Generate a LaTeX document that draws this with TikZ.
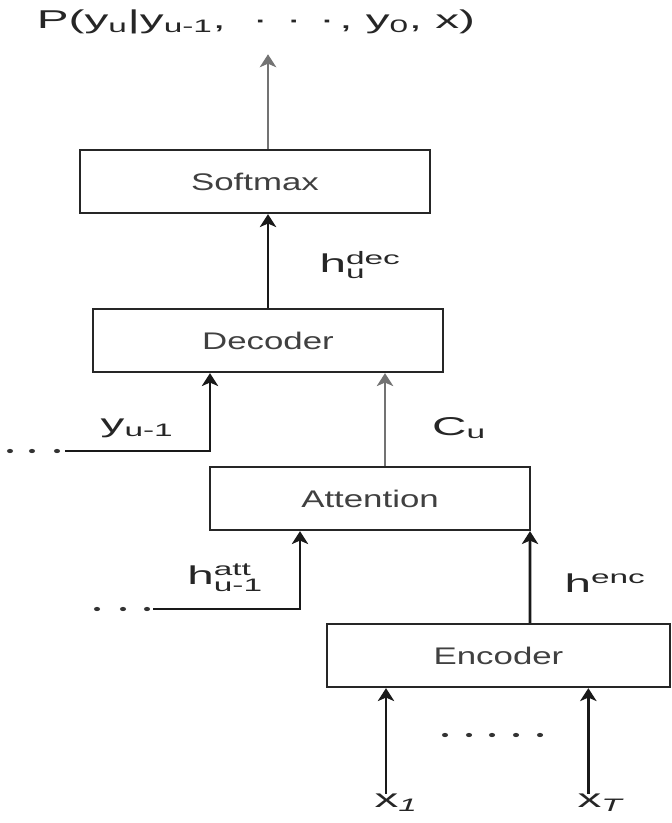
\documentclass[tikz,border=0pt]{standalone}
\usepackage{fontspec}
\setmainfont{Liberation Sans}[FakeStretch=1.45]
\newfontfamily\widesans{Liberation Sans}[FakeStretch=1.85]
\usepackage{amsmath}
\usetikzlibrary{positioning,arrows.meta}

\begin{document}
\begin{tikzpicture}[x=0.03cm, y=-0.03cm,
    blocknode/.style={rectangle, draw=black!85, line width=2pt, inner sep=0pt, minimum height=1.89cm, font=\fontsize{20.5}{24}\selectfont, text=black!75},
    labelnode/.style={inner sep=0pt, font=\widesans\fontsize{22}{26}\selectfont, text=black!85},
    flow/.style={-{Stealth[length=11pt,width=14pt,inset=3pt]}, line width=2.3pt, draw=black!90},
    greyflow/.style={flow, draw=black!55},]
    \useasboundingbox (0,0) rectangle (671,823);
    % nodes
    \node[blocknode, minimum width=10.5cm]  (softmax)   at (255,181.5)   {Softmax};
    \node[blocknode, minimum width=10.5cm]  (decoder)   at (268,340.5)   {Decoder};
    \node[blocknode, minimum width=9.6cm]   (attention) at (370,498.5)   {Attention};
    \node[blocknode, minimum width=10.29cm] (encoder)   at (498.5,655.5) {Encoder};
    \node[labelnode] (prob)  at (256,22)  {P(y$_{\text{u}}$|y$_{\text{u-1}}$, \ ·\ \,·\ \,·\,, y$_{\text{0}}$, x)};
    \node[labelnode] (hdec)  at (360,265) {h$^{\text{dec}}_{\text{u}}$};
    \node[labelnode] (yprevlabel) at (137,428) {y$_{\text{u-1}}$};
    \node[labelnode] (cu)    at (459,428) {C$_{\text{u}}$};
    \node[labelnode] (hattlabel)  at (225,578) {h$^{\text{att}}_{\text{u-1}}$};
    \node[labelnode] (henc)  at (605,583) {h$^{\text{enc}}$};
    \node[labelnode] (x1)    at (396,803) {x$_{\textit{1}}$};
    \node[labelnode] (xT)    at (600,803) {x$_{\textit{T}}$};
    \coordinate (yprev) at (65,451);
    \coordinate (hprev) at (153,609);
    % dots
    \foreach \x in {10,32,57} \fill[black!80] (\x,451) ellipse [x radius=2.6pt, y radius=1.8pt];
    \foreach \x in {97,123,147} \fill[black!80] (\x,609) ellipse [x radius=2.6pt, y radius=1.8pt];
    \foreach \x in {445,469,492,516,540} \fill[black!80] (\x,735) ellipse [x radius=2.6pt, y radius=1.8pt];
    % lines
    \draw[greyflow, shorten >=0.6cm] (softmax.north -| decoder.north) -- (prob.south -| decoder.north);
    \draw[flow] (decoder.north) -- (softmax.south -| decoder.north);
    \draw[flow] (yprev) -| ([xshift=-1.74cm]decoder.south);
    \draw[greyflow] ([xshift=0.45cm]attention.north) -- ([xshift=0.45cm]attention.north |- decoder.south);
    \draw[flow] (hprev) -| ([xshift=-2.1cm]attention.south);
    \draw[flow] ([xshift=0.945cm]encoder.north) -- ([xshift=4.8cm]attention.south);
    \draw[flow] ([xshift=-0.3cm]x1.north) -- ([xshift=-0.3cm]x1.north |- encoder.south);
    \draw[flow] ([xshift=-0.35cm]xT.north) -- ([xshift=-0.35cm]xT.north |- encoder.south);
\end{tikzpicture}
\end{document}
